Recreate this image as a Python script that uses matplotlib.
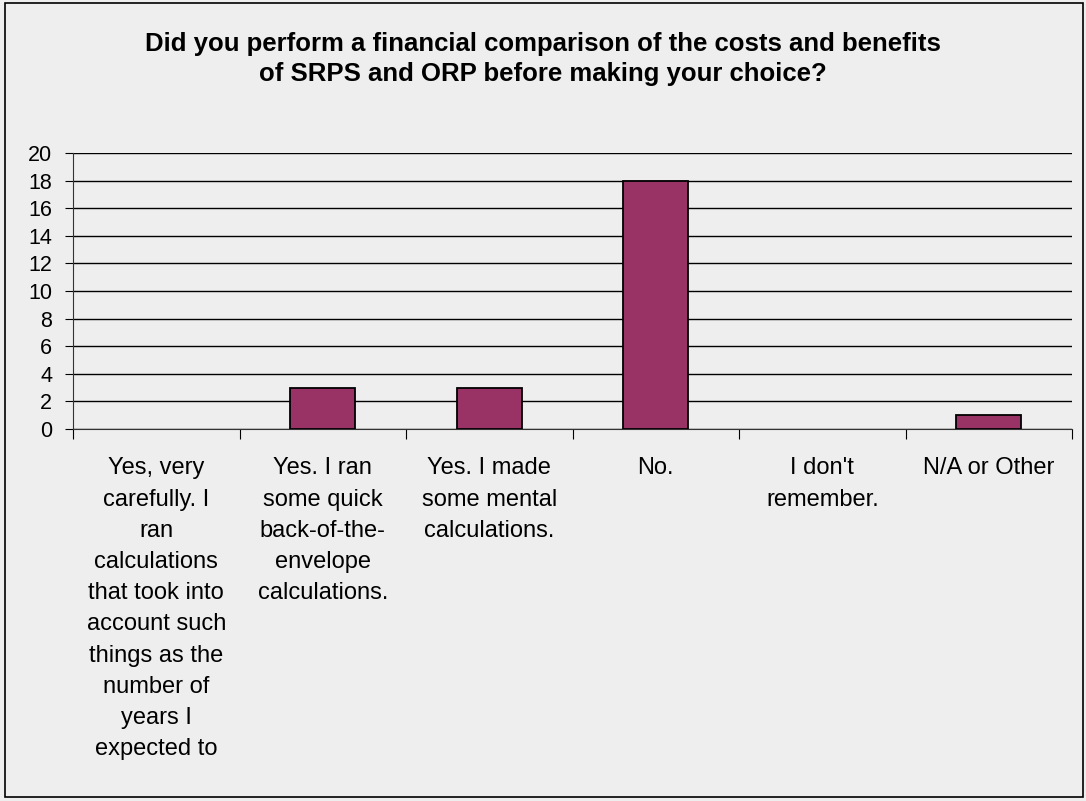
import matplotlib
matplotlib.use("Agg")
import matplotlib.pyplot as plt
from matplotlib.patches import Rectangle
from matplotlib.ticker import FixedLocator, NullFormatter
import numpy as np

plt.rcParams['font.family'] = ['Liberation Sans', 'DejaVu Sans']

title = ("Did you perform a financial comparison of the costs and benefits\n"
         "of SRPS and ORP before making your choice?")
categories = [
    "Yes, very\ncarefully. I\nran\ncalculations\nthat took into\naccount such\nthings as the\nnumber of\nyears I\nexpected to",
    "Yes. I ran\nsome quick\nback-of-the-\nenvelope\ncalculations.",
    "Yes. I made\nsome mental\ncalculations.",
    "No.",
    "I don't\nremember.",
    "N/A or Other",
]
counts = [0, 3, 3, 18, 0, 1]
y_ticks = list(range(0, 21, 2))

W, H = 1086, 801
fig = plt.figure(figsize=(W / 100, H / 100), dpi=100)
bg = "#eeeeee"
fig.patch.set_facecolor(bg)

# outer frame
fig.patches.append(Rectangle((5 / W, 1 - 797 / H), (1083 - 5) / W, (797 - 3) / H,
                             transform=fig.transFigure, fill=False,
                             edgecolor="black", linewidth=1.2))

left, right, top, bottom = 73, 1072, 153, 429
ax = fig.add_axes([left / W, 1 - bottom / H, (right - left) / W, (bottom - top) / H])
ax.set_facecolor(bg)

x = np.arange(len(categories))
edge_widths = [1.3 if c > 0 else 0 for c in counts]
ax.bar(x, counts, width=0.39, color="#993366", edgecolor="black",
       linewidth=edge_widths, zorder=3)

ax.set_xlim(-0.5, len(categories) - 0.5)
ax.set_ylim(0, 20)
ax.set_yticks(y_ticks)
ax.yaxis.grid(True, color="black", linewidth=1.0, zorder=0)
ax.set_axisbelow(True)

for s in ("top", "right"):
    ax.spines[s].set_visible(False)
ax.spines["left"].set_color("#333333")
ax.spines["bottom"].set_color("#333333")

ax.tick_params(axis="y", direction="out", length=6, labelsize=15.5, pad=9)
# category boundary ticks on x axis
ax.xaxis.set_major_locator(FixedLocator(np.arange(-0.5, len(categories), 1.0)))
ax.xaxis.set_major_formatter(NullFormatter())
ax.tick_params(axis="x", direction="out", length=7)

for xi, lab in zip(x, categories):
    ax.text(xi, -0.103, lab, transform=ax.get_xaxis_transform(), ha="center", va="top",
            fontsize=17, linespacing=1.54)

fig.text(0.5, 1 - 32 / H, title, ha="center", va="top", fontsize=18.5,
         fontweight="bold", linespacing=1.33)

fig.savefig("out.png", dpi=100, facecolor=bg)
